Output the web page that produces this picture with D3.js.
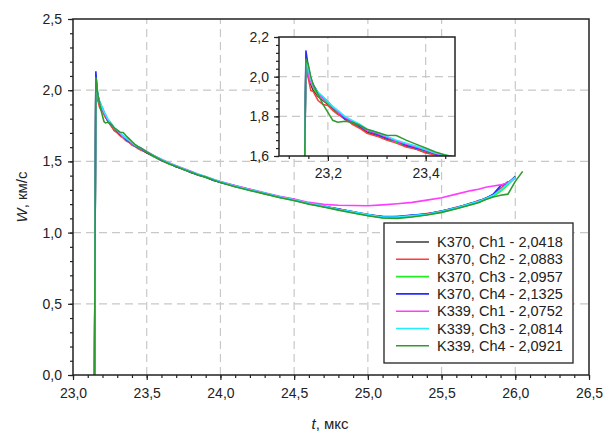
<!DOCTYPE html>
<html>
<head>
<meta charset="utf-8">
<script src="https://cdn.jsdelivr.net/npm/d3@7"></script>
<style>
  body { margin: 0; background: #fff; }
  text { font-family: "Liberation Sans", Arial, sans-serif; fill: #222; }
</style>
</head>
<body>
<div id="chart"></div>
<script>
// time points, mks (shared by all records)
const times = [23.146, 23.150, 23.155, 23.160, 23.165, 23.170, 23.180, 23.190, 23.200, 23.210,
  23.220, 23.235, 23.250, 23.265, 23.280, 23.300, 23.320, 23.340, 23.360, 23.380,
  23.400, 23.420, 23.440, 23.460, 23.50, 23.55, 23.60, 23.65, 23.70, 23.75,
  23.80, 23.85, 23.90, 23.95, 24.00, 24.10, 24.20, 24.30, 24.40, 24.50,
  24.60, 24.70, 24.80, 24.90, 25.00, 25.10, 25.20, 25.30, 25.40, 25.50,
  25.60, 25.70, 25.75, 25.80, 25.85, 25.90, 25.95, 26.00, 26.05];

// W, km/s
const k370ch1 = [0, 1.02, 2.04, 2.00, 1.96, 1.93, 1.90, 1.88, 1.86, 1.84,
  1.815, 1.785, 1.765, 1.745, 1.72, 1.705, 1.685, 1.67, 1.65, 1.635,
  1.62, 1.61, 1.595, 1.585, 1.56, 1.532, 1.508, 1.487, 1.462, 1.447,
  1.423, 1.404, 1.388, 1.372, 1.352, 1.327, 1.298, 1.276, 1.248, 1.232,
  1.203, 1.187, 1.163, 1.147, 1.123, 1.112, 1.108, 1.122, 1.128, 1.152,
  1.173, 1.207, 1.218, 1.243, 1.262, 1.31, 1.345, 1.395, null];
const k370ch2 = [0, 0.98, 2.088, 1.99, 1.93, 1.925, 1.88, 1.86, 1.855, 1.83,
  1.81, 1.79, 1.76, 1.74, 1.715, 1.70, 1.68, 1.665, 1.645, 1.635,
  1.615, 1.605, 1.59, 1.58, 1.562, 1.537, 1.505, 1.483, 1.466, 1.441,
  1.427, 1.402, 1.392, 1.368, 1.357, 1.322, 1.303, 1.272, 1.253, 1.228,
  1.207, 1.182, 1.168, 1.143, 1.128, 1.108, 1.113, 1.118, 1.133, 1.148,
  1.178, 1.203, 1.225, 1.238, 1.265, 1.305, 1.36, null, null];
const k370ch3 = [0, 1.0, 2.096, 2.03, 1.975, 1.945, 1.905, 1.885, 1.865, 1.845,
  1.82, 1.795, 1.77, 1.75, 1.73, 1.71, 1.69, 1.67, 1.655, 1.64,
  1.625, 1.61, 1.598, 1.588, 1.567, 1.533, 1.512, 1.484, 1.467, 1.443,
  1.424, 1.407, 1.387, 1.371, 1.353, 1.324, 1.298, 1.273, 1.247, 1.226,
  1.202, 1.181, 1.16, 1.14, 1.12, 1.105, 1.104, 1.113, 1.126, 1.144,
  1.17, 1.198, 1.214, 1.235, 1.255, 1.29, 1.335, 1.385, null];
const k370ch4 = [0, 1.05, 2.1325, 2.05, 1.99, 1.96, 1.92, 1.895, 1.875, 1.845,
  1.825, 1.79, 1.775, 1.75, 1.73, 1.71, 1.69, 1.675, 1.655, 1.64,
  1.628, 1.61, 1.6, 1.59, 1.563, 1.538, 1.508, 1.488, 1.463, 1.446,
  1.422, 1.406, 1.391, 1.368, 1.354, 1.328, 1.302, 1.277, 1.252, 1.233,
  1.206, 1.184, 1.166, 1.146, 1.127, 1.113, 1.112, 1.124, 1.131, 1.151,
  1.176, 1.204, 1.222, 1.24, 1.27, 1.33, 1.35, 1.39, null];
const k339ch1 = [0, 1.0, 2.075, 2.01, 1.97, 1.95, 1.915, 1.89, 1.87, 1.845,
  1.825, 1.795, 1.775, 1.755, 1.73, 1.715, 1.695, 1.675, 1.66, 1.645,
  1.63, 1.612, 1.602, 1.592, 1.57, 1.54, 1.515, 1.49, 1.47, 1.45,
  1.43, 1.41, 1.393, 1.375, 1.358, 1.33, 1.305, 1.28, 1.255, 1.235,
  1.212, 1.198, 1.192, 1.19, 1.189, 1.195, 1.203, 1.212, 1.228, 1.245,
  1.27, 1.295, 1.305, 1.318, 1.327, 1.335, 1.35, 1.385, null];
const k339ch3 = [0, 0.95, 2.081, 2.04, 1.985, 1.955, 1.92, 1.9, 1.875, 1.85,
  1.83, 1.8, 1.78, 1.76, 1.735, 1.72, 1.7, 1.68, 1.665, 1.65,
  1.632, 1.615, 1.605, 1.595, 1.568, 1.538, 1.513, 1.489, 1.468, 1.448,
  1.428, 1.41, 1.394, 1.374, 1.357, 1.327, 1.301, 1.278, 1.251, 1.231,
  1.206, 1.186, 1.164, 1.146, 1.126, 1.11, 1.109, 1.119, 1.129, 1.149,
  1.174, 1.205, 1.22, 1.24, 1.262, 1.3, 1.342, 1.39, null];
const k339ch4 = [0, 1.0, 2.092, 2.06, 2.0, 1.96, 1.91, 1.86, 1.82, 1.78,
  1.77, 1.775, 1.77, 1.755, 1.735, 1.72, 1.705, 1.703, 1.68, 1.66,
  1.64, 1.62, 1.605, 1.595, 1.566, 1.536, 1.509, 1.484, 1.464, 1.444,
  1.424, 1.404, 1.39, 1.369, 1.352, 1.322, 1.296, 1.272, 1.246, 1.225,
  1.2, 1.18, 1.158, 1.138, 1.118, 1.103, 1.1, 1.11, 1.124, 1.142,
  1.167, 1.195, 1.21, 1.232, 1.25, 1.262, 1.27, 1.36, 1.43];

const seriesNames = ['K370, Ch1 - 2,0418', 'K370, Ch2 - 2,0883', 'K370, Ch3 - 2,0957', 'K370, Ch4 - 2,1325',
  'K339, Ch1 - 2,0752', 'K339, Ch3 - 2,0814', 'K339, Ch4 - 2,0921'];
const seriesValues = [k370ch1, k370ch2, k370ch3, k370ch4, k339ch1, k339ch3, k339ch4];
const seriesColors = ['#3a3a3a', '#ff3b3b', '#22ee22', '#2a2aff', '#ff3cff', '#22eeff', '#2f9a2f'];

const xTicks = [23.0, 23.5, 24.0, 24.5, 25.0, 25.5, 26.0, 26.5];
const yTicks = [0.0, 0.5, 1.0, 1.5, 2.0, 2.5];
const insetXTicks = [23.2, 23.4];
const insetYTicks = [1.6, 1.8, 2.0, 2.2];

const series = seriesNames.map((name, i) => ({
  name: name,
  color: seriesColors[i],
  points: times.map((t, j) => ({t: t, w: seriesValues[i][j]}))
}));

const width = 603, height = 432;
const margin = {top: 19, right: 14, bottom: 57, left: 73};
const fmt = d => d.toFixed(1).replace('.', ',');

const svg = d3.select('#chart')
  .append('svg')
    .attr('width', width)
    .attr('height', height);

const x = d3.scaleLinear().domain([23, 26.5]).range([margin.left, width - margin.right]);
const y = d3.scaleLinear().domain([0, 2.5]).range([height - margin.bottom, margin.top]);

// grid
const grid = svg.append('g')
  .attr('stroke', '#c8c8c8')
  .attr('stroke-dasharray', '8 5')
  .attr('stroke-width', 1.2);
grid.selectAll('.gx')
  .data(xTicks.slice(1, -1))
  .join('line')
    .attr('x1', d => x(d)).attr('x2', d => x(d))
    .attr('y1', y(0)).attr('y2', y(2.5));
grid.selectAll('.gy')
  .data(yTicks.slice(1, -1))
  .join('line')
    .attr('x1', x(23)).attr('x2', x(26.5))
    .attr('y1', d => y(d)).attr('y2', d => y(d));

// curves
svg.append('clipPath').attr('id', 'clipMain')
  .append('rect')
    .attr('x', x(23)).attr('y', y(2.5))
    .attr('width', x(26.5) - x(23)).attr('height', y(0) - y(2.5));

const line = d3.line()
  .defined(d => d.w !== null)
  .x(d => x(d.t))
  .y(d => y(d.w));

svg.append('g')
  .attr('clip-path', 'url(#clipMain)')
  .selectAll('path')
  .data(series)
  .join('path')
    .attr('fill', 'none')
    .attr('stroke', d => d.color)
    .attr('stroke-width', 1.6)
    .attr('d', d => line(d.points));

// axes
function styleAxis(g) {
  g.select('.domain').remove();
  g.selectAll('line').attr('stroke', '#222').attr('stroke-width', 1.2);
  g.selectAll('text')
    .style('font-family', '"Liberation Sans", Arial, sans-serif')
    .style('font-size', '14px')
    .attr('fill', '#222');
}

const xMinor = d3.range(0, 36).map(i => 23 + i * 0.1);
const yMinor = d3.range(0, 26).map(i => i * 0.1);

svg.append('g')
  .attr('transform', `translate(0,${y(0)})`)
  .call(d3.axisBottom(x).tickValues(xMinor).tickSize(3).tickFormat(''))
  .call(styleAxis);
svg.append('g')
  .attr('transform', `translate(0,${y(0)})`)
  .call(d3.axisBottom(x).tickValues(xTicks).tickSize(5).tickPadding(8).tickFormat(fmt))
  .call(styleAxis);
svg.append('g')
  .attr('transform', `translate(${x(23)},0)`)
  .call(d3.axisLeft(y).tickValues(yMinor).tickSize(3).tickFormat(''))
  .call(styleAxis);
svg.append('g')
  .attr('transform', `translate(${x(23)},0)`)
  .call(d3.axisLeft(y).tickValues(yTicks).tickSize(5).tickPadding(6).tickFormat(fmt))
  .call(styleAxis);

svg.append('rect')
  .attr('x', x(23)).attr('y', y(2.5))
  .attr('width', x(26.5) - x(23)).attr('height', y(0) - y(2.5))
  .attr('fill', 'none')
  .attr('stroke', '#222')
  .attr('stroke-width', 1.5);

// axis titles
const xTitle = svg.append('text')
  .attr('x', 330).attr('y', 429)
  .attr('text-anchor', 'middle')
  .style('font-size', '15px');
xTitle.append('tspan').attr('font-style', 'italic').text('t');
xTitle.append('tspan').text(', мкс');

const yTitle = svg.append('text')
  .attr('transform', `translate(27,${(y(0) + y(2.5)) / 2}) rotate(-90)`)
  .attr('text-anchor', 'middle')
  .style('font-size', '15px');
yTitle.append('tspan').attr('font-style', 'italic').text('W');
yTitle.append('tspan').text(', км/с');

// inset
const ix = d3.scaleLinear().domain([23.1, 23.46]).range([279, 455]);
const iy = d3.scaleLinear().domain([1.6, 2.2]).range([156, 37]);

svg.append('rect')
  .attr('x', 279).attr('y', 37)
  .attr('width', 455 - 279).attr('height', 156 - 37)
  .attr('fill', '#fff');

const igrid = svg.append('g')
  .attr('stroke', '#c8c8c8')
  .attr('stroke-dasharray', '8 5')
  .attr('stroke-width', 1.2);
igrid.selectAll('.gx')
  .data(insetXTicks)
  .join('line')
    .attr('x1', d => ix(d)).attr('x2', d => ix(d))
    .attr('y1', iy(1.6)).attr('y2', iy(2.2));
igrid.selectAll('.gy')
  .data([1.8, 2.0])
  .join('line')
    .attr('x1', ix(23.1)).attr('x2', ix(23.46))
    .attr('y1', d => iy(d)).attr('y2', d => iy(d));

svg.append('clipPath').attr('id', 'clipInset')
  .append('rect')
    .attr('x', 279).attr('y', 37)
    .attr('width', 455 - 279).attr('height', 156 - 37);

const iline = d3.line()
  .defined(d => d.w !== null)
  .x(d => ix(d.t))
  .y(d => iy(d.w));

svg.append('g')
  .attr('clip-path', 'url(#clipInset)')
  .selectAll('path')
  .data(series)
  .join('path')
    .attr('fill', 'none')
    .attr('stroke', d => d.color)
    .attr('stroke-width', 1.5)
    .attr('d', d => iline(d.points));

const ixMinor = d3.range(0, 9).map(i => 23.12 + i * 0.04);
const iyMinor = d3.range(0, 16).map(i => 1.6 + i * 0.04);

svg.append('g')
  .attr('transform', `translate(0,156)`)
  .call(d3.axisBottom(ix).tickValues(ixMinor).tickSize(3).tickFormat(''))
  .call(styleAxis);
svg.append('g')
  .attr('transform', `translate(0,156)`)
  .call(d3.axisBottom(ix).tickValues(insetXTicks).tickSize(5).tickPadding(7).tickFormat(fmt))
  .call(styleAxis);
svg.append('g')
  .attr('transform', `translate(279,0)`)
  .call(d3.axisLeft(iy).tickValues(iyMinor).tickSize(3).tickFormat(''))
  .call(styleAxis);
svg.append('g')
  .attr('transform', `translate(279,0)`)
  .call(d3.axisLeft(iy).tickValues(insetYTicks).tickSize(5).tickPadding(5).tickFormat(fmt))
  .call(styleAxis);

svg.append('rect')
  .attr('x', 279).attr('y', 37)
  .attr('width', 455 - 279).attr('height', 156 - 37)
  .attr('fill', 'none')
  .attr('stroke', '#222')
  .attr('stroke-width', 1.5);

// legend
const legend = svg.append('g');
legend.append('rect')
  .attr('x', 384).attr('y', 223)
  .attr('width', 189).attr('height', 140)
  .attr('fill', '#fff')
  .attr('stroke', '#222')
  .attr('stroke-width', 1.3);

const rows = legend.selectAll('.row')
  .data(series)
  .join('g')
    .attr('transform', (d, i) => `translate(0,${242 + i * 17.3})`);
rows.append('line')
  .attr('x1', 396).attr('x2', 429)
  .attr('stroke', d => d.color)
  .attr('stroke-width', 1.6);
rows.append('text')
  .attr('x', 437).attr('dy', '0.35em')
  .style('font-size', '14.5px')
  .text(d => d.name);
</script>
</body>
</html>
